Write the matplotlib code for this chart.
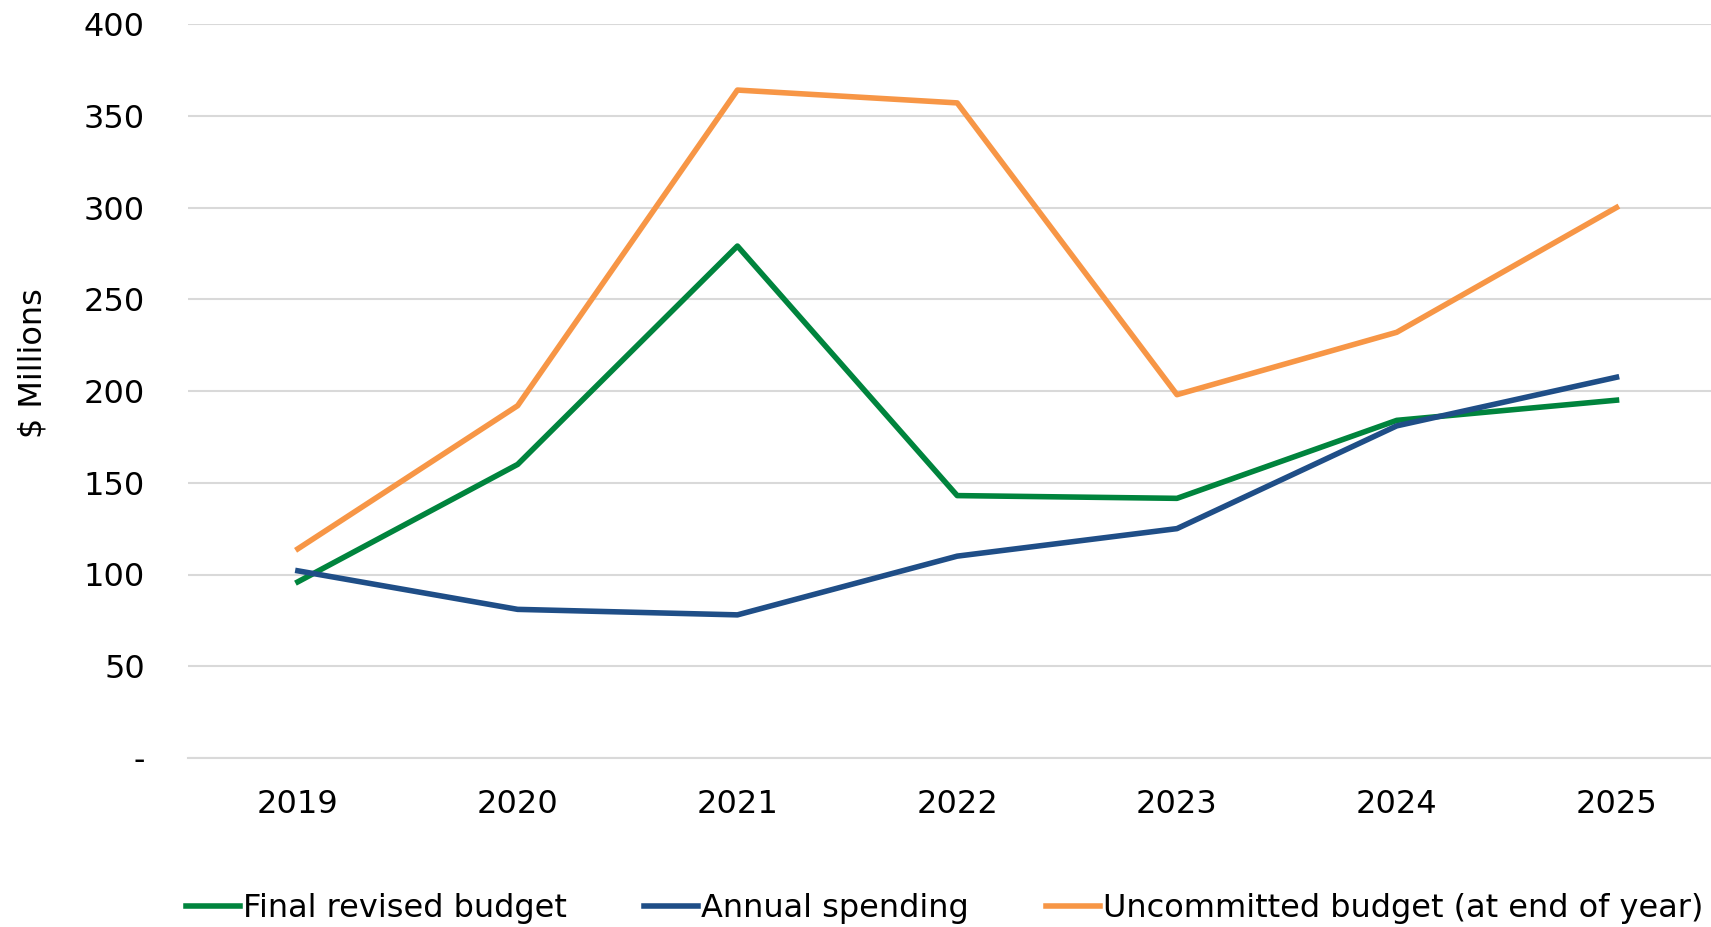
import matplotlib.pyplot as plt

years = ['2019', '2020', '2021', '2022', '2023', '2024', '2025']
final_budget = [96, 160, 279, 143, 141.5, 184, 195]
annual_spending = [102, 81, 78, 110, 125, 181, 207.5]
uncommitted = [114, 192, 364, 357, 198, 232, 300]

plt.rcParams.update({'font.family': 'DejaVu Sans', 'font.size': 23})

fig = plt.figure(figsize=(17.11, 9.27), dpi=100)
ax = fig.add_axes([188 / 1711, 1 - 758 / 927, 1 - 188 / 1711, (758 - 24) / 927])

x = range(len(years))
lw = 4.0
ax.plot(x, final_budget, color='#00843D', linewidth=lw, label='Final revised budget')
ax.plot(x, annual_spending, color='#1F4E87', linewidth=lw, label='Annual spending')
ax.plot(x, uncommitted, color='#F79646', linewidth=lw, label='Uncommitted budget (at end of year)')

ax.set_xlim(-0.5, 6.43)
ax.set_ylim(0, 400)
ax.set_yticks(range(0, 401, 50))
ax.set_yticklabels(['-'] + [str(v) for v in range(50, 401, 50)])
ax.set_xticks(list(x))
ax.set_xticklabels(years)
ax.tick_params(length=0)
ax.tick_params(axis='y', pad=31)
ax.tick_params(axis='x', pad=22)

ax.grid(axis='y', color='#D9D9D9', linewidth=1.5)
ax.set_axisbelow(True)
for s in ['top', 'right', 'left']:
    ax.spines[s].set_visible(False)
ax.spines['bottom'].set_color('#D9D9D9')
ax.spines['bottom'].set_linewidth(1.5)

fig.text(33 / 1711, 1 - 363 / 927, '$ Millions', rotation=90, ha='center', va='center')

fig.legend(loc='lower center', bbox_to_anchor=(0.552, -0.028), ncol=3, frameon=False,
           handlelength=1.7, handletextpad=0.1, columnspacing=2.4)

plt.savefig('out.png', dpi=100)
